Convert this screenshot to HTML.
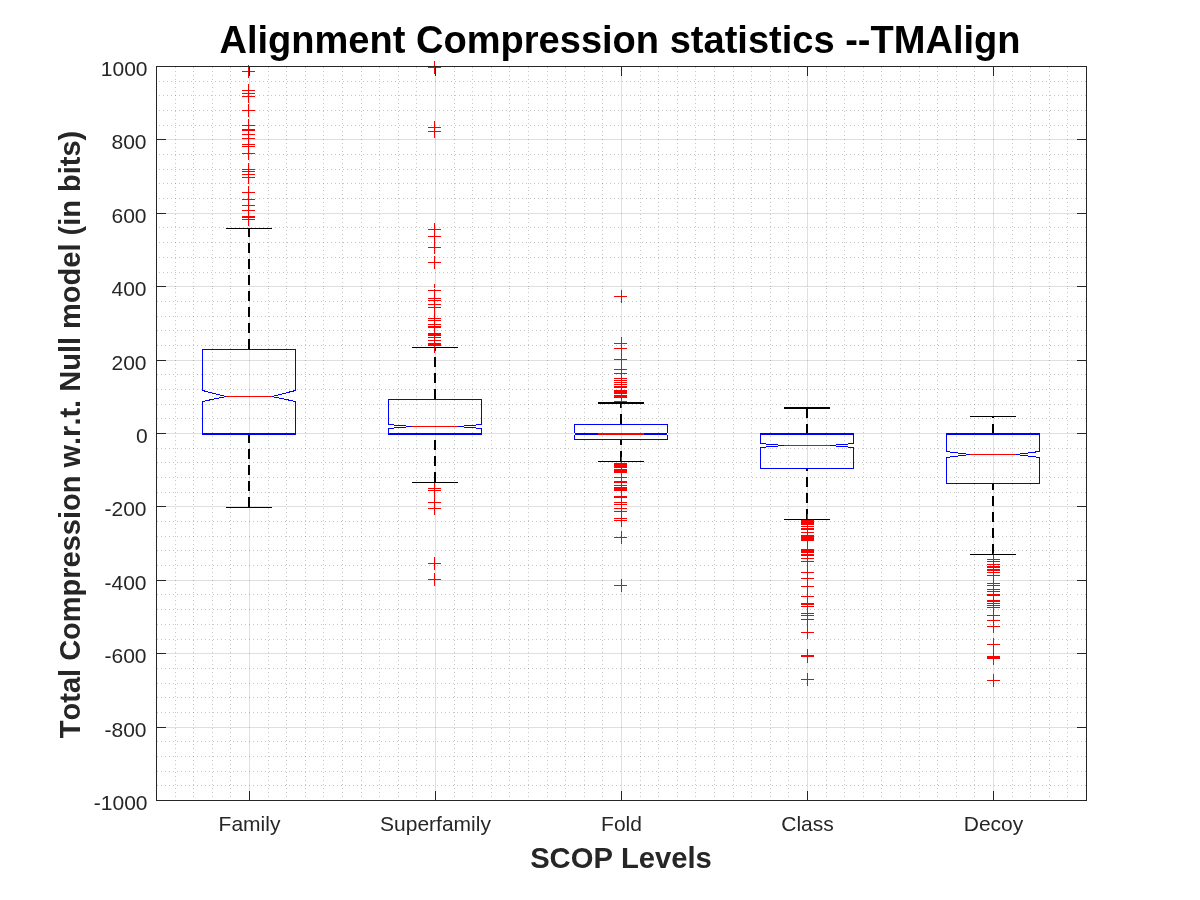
<!DOCTYPE html>
<html lang="en"><head><meta charset="utf-8"><title>Alignment Compression statistics --TMAlign</title>
<style>
html,body{margin:0;padding:0;background:#fff;}
body{width:1200px;height:900px;overflow:hidden;}
svg{display:block;}
text{font-family:'Liberation Sans', sans-serif;font-kerning:none;}
</style></head><body>
<svg width="1200" height="900" viewBox="0 0 1200 900">
<rect width="1200" height="900" fill="#fff"/>
<g shape-rendering="crispEdges">
<path d="M175.5,67V188M175.5,190V287M175.5,288V797M193.5,67V188M193.5,190V287M193.5,288V797M212.5,67V188M212.5,190V287M212.5,288V797M230.5,67V188M230.5,190V287M230.5,288V797M268.5,67V188M268.5,190V287M268.5,288V797M286.5,67V188M286.5,190V287M286.5,288V797M305.5,67V188M305.5,190V287M305.5,288V797M323.5,67V188M323.5,190V287M323.5,288V797M342.5,67V188M342.5,190V287M342.5,288V797M361.5,67V188M361.5,190V287M361.5,288V797M379.5,67V188M379.5,190V287M379.5,288V797M398.5,67V188M398.5,190V287M398.5,288V797M416.5,67V188M416.5,190V287M416.5,288V797M454.5,67V188M454.5,190V287M454.5,288V797M472.5,67V188M472.5,190V287M472.5,288V797M491.5,67V188M491.5,190V287M491.5,288V797M509.5,67V188M509.5,190V287M509.5,288V797M528.5,67V188M528.5,190V287M528.5,288V797M547.5,67V188M547.5,190V287M547.5,288V797M565.5,67V188M565.5,190V287M565.5,288V797M584.5,67V188M584.5,190V287M584.5,288V797M602.5,67V188M602.5,190V287M602.5,288V797M640.5,67V188M640.5,190V287M640.5,288V797M658.5,67V188M658.5,190V287M658.5,288V797M677.5,67V188M677.5,190V287M677.5,288V797M695.5,67V188M695.5,190V287M695.5,288V797M714.5,67V188M714.5,190V287M714.5,288V797M733.5,67V188M733.5,190V287M733.5,288V797M751.5,67V188M751.5,190V287M751.5,288V797M770.5,67V188M770.5,190V287M770.5,288V797M788.5,67V188M788.5,190V287M788.5,288V797M826.5,67V188M826.5,190V287M826.5,288V797M844.5,67V188M844.5,190V287M844.5,288V797M863.5,67V188M863.5,190V287M863.5,288V797M881.5,67V188M881.5,190V287M881.5,288V797M900.5,67V188M900.5,190V287M900.5,288V797M919.5,67V188M919.5,190V287M919.5,288V797M937.5,67V188M937.5,190V287M937.5,288V797M956.5,67V188M956.5,190V287M956.5,288V797M974.5,67V188M974.5,190V287M974.5,288V797M1012.5,67V188M1012.5,190V287M1012.5,288V797M1030.5,67V188M1030.5,190V287M1030.5,288V797M1049.5,67V188M1049.5,190V287M1049.5,288V797M1067.5,67V188M1067.5,190V287M1067.5,288V797" stroke="#1a1a1a" stroke-width="1" stroke-dasharray="1 3" stroke-opacity="0.25" fill="none"/>
<path d="M159,81.5H468M470,81.5H1071M1073,81.5H1086M159,95.5H468M470,95.5H1071M1073,95.5H1086M159,110.5H468M470,110.5H1071M1073,110.5H1086M159,125.5H468M470,125.5H1071M1073,125.5H1086M159,154.5H468M470,154.5H1071M1073,154.5H1086M159,169.5H468M470,169.5H1071M1073,169.5H1086M159,183.5H468M470,183.5H1071M1073,183.5H1086M159,198.5H468M470,198.5H1071M1073,198.5H1086M159,227.5H468M470,227.5H1071M1073,227.5H1086M159,242.5H468M470,242.5H1071M1073,242.5H1086M159,257.5H468M470,257.5H1071M1073,257.5H1086M159,272.5H468M470,272.5H1071M1073,272.5H1086M157,301.5H470M472,301.5H781M786,301.5H1071M1077,301.5H1086M157,316.5H470M472,316.5H781M786,316.5H1071M1077,316.5H1086M157,330.5H470M472,330.5H781M786,330.5H1071M1077,330.5H1086M157,345.5H470M472,345.5H781M786,345.5H1071M1077,345.5H1086M157,374.5H470M472,374.5H781M786,374.5H1071M1077,374.5H1086M157,389.5H470M472,389.5H781M786,389.5H1071M1077,389.5H1086M157,404.5H470M472,404.5H781M786,404.5H1071M1077,404.5H1086M157,418.5H470M472,418.5H781M786,418.5H1071M1077,418.5H1086M157,448.5H470M472,448.5H781M786,448.5H1071M1077,448.5H1086M157,462.5H470M472,462.5H781M786,462.5H1071M1077,462.5H1086M157,477.5H470M472,477.5H781M786,477.5H1071M1077,477.5H1086M157,492.5H470M472,492.5H781M786,492.5H1071M1077,492.5H1086M157,521.5H470M472,521.5H781M786,521.5H1071M1077,521.5H1086M157,536.5H470M472,536.5H781M786,536.5H1071M1077,536.5H1086M157,550.5H470M472,550.5H781M786,550.5H1071M1077,550.5H1086M157,565.5H470M472,565.5H781M786,565.5H1071M1077,565.5H1086M157,594.5H470M472,594.5H781M786,594.5H1071M1077,594.5H1086M157,609.5H470M472,609.5H781M786,609.5H1071M1077,609.5H1086M157,624.5H470M472,624.5H781M786,624.5H1071M1077,624.5H1086M157,639.5H470M472,639.5H781M786,639.5H1071M1077,639.5H1086M157,668.5H470M472,668.5H781M786,668.5H1071M1077,668.5H1086M157,683.5H470M472,683.5H781M786,683.5H1071M1077,683.5H1086M157,697.5H470M472,697.5H781M786,697.5H1071M1077,697.5H1086M157,712.5H470M472,712.5H781M786,712.5H1071M1077,712.5H1086M157,741.5H470M472,741.5H781M786,741.5H1071M1077,741.5H1086M157,756.5H470M472,756.5H781M786,756.5H1071M1077,756.5H1086M157,771.5H470M472,771.5H781M786,771.5H1071M1077,771.5H1086M157,785.5H470M472,785.5H781M786,785.5H1071M1077,785.5H1086" stroke="#1a1a1a" stroke-width="1" stroke-dasharray="1 3" stroke-opacity="0.25" fill="none"/>
<g fill-opacity="0.15">
<rect x="249" y="67" width="1" height="733" fill="#262626"/>
<rect x="435" y="67" width="1" height="733" fill="#262626"/>
<rect x="621" y="67" width="1" height="733" fill="#262626"/>
<rect x="807" y="67" width="1" height="733" fill="#262626"/>
<rect x="993" y="67" width="1" height="733" fill="#262626"/>
<rect x="157" y="139" width="929" height="1" fill="#262626"/>
<rect x="157" y="213" width="929" height="1" fill="#262626"/>
<rect x="157" y="286" width="929" height="1" fill="#262626"/>
<rect x="157" y="360" width="929" height="1" fill="#262626"/>
<rect x="157" y="433" width="929" height="1" fill="#262626"/>
<rect x="157" y="506" width="929" height="1" fill="#262626"/>
<rect x="157" y="580" width="929" height="1" fill="#262626"/>
<rect x="157" y="653" width="929" height="1" fill="#262626"/>
<rect x="157" y="727" width="929" height="1" fill="#262626"/>
</g>
<rect x="784" y="360" width="1" height="1" fill="#fff"/>
<rect x="784" y="433" width="1" height="1" fill="#fff"/>
<rect x="784" y="506" width="1" height="1" fill="#fff"/>
<rect x="784" y="580" width="1" height="1" fill="#fff"/>
<rect x="784" y="653" width="1" height="1" fill="#fff"/>
<rect x="784" y="727" width="1" height="1" fill="#fff"/>
<rect x="249" y="287" width="1" height="1" fill="#fff"/>
<rect x="435" y="287" width="1" height="1" fill="#fff"/>
<rect x="621" y="287" width="1" height="1" fill="#fff"/>
<rect x="807" y="287" width="1" height="1" fill="#fff"/>
<rect x="993" y="287" width="1" height="1" fill="#fff"/>
<line x1="249" y1="349" x2="249" y2="228" stroke="#000000" stroke-width="2" stroke-dasharray="10 6"/>
<line x1="249" y1="507" x2="249" y2="434" stroke="#000000" stroke-width="2" stroke-dasharray="10 6"/>
<polygon points="202.5,349.5 295.5,349.5 295.5,390.5 272,396.5 295.5,401.5 295.5,433.5 202.5,433.5 202.5,401.5 226,396.5 202.5,390.5" fill="none" stroke="#0000ff" stroke-width="1"/>
<rect x="202" y="433" width="94" height="2" fill="#0000ff"/>
<rect x="226" y="396" width="46" height="1" fill="#ff0000"/>
<rect x="242" y="71" width="13" height="1" fill="#ff0000"/>
<rect x="248" y="65" width="1" height="13" fill="#ff0000"/>
<rect x="242" y="90" width="13" height="1" fill="#ff0000"/>
<rect x="248" y="84" width="1" height="13" fill="#ff0000"/>
<rect x="242" y="93" width="13" height="1" fill="#ff0000"/>
<rect x="248" y="87" width="1" height="13" fill="#ff0000"/>
<rect x="242" y="96" width="13" height="1" fill="#ff0000"/>
<rect x="248" y="90" width="1" height="13" fill="#ff0000"/>
<rect x="242" y="110" width="13" height="1" fill="#ff0000"/>
<rect x="248" y="104" width="1" height="13" fill="#ff0000"/>
<rect x="242" y="125" width="13" height="1" fill="#ff0000"/>
<rect x="248" y="119" width="1" height="13" fill="#ff0000"/>
<rect x="242" y="129" width="13" height="1" fill="#ff0000"/>
<rect x="248" y="123" width="1" height="13" fill="#ff0000"/>
<rect x="242" y="130" width="13" height="1" fill="#ff0000"/>
<rect x="248" y="124" width="1" height="13" fill="#ff0000"/>
<rect x="242" y="134" width="13" height="1" fill="#ff0000"/>
<rect x="248" y="128" width="1" height="13" fill="#ff0000"/>
<rect x="242" y="138" width="13" height="1" fill="#ff0000"/>
<rect x="248" y="132" width="1" height="13" fill="#ff0000"/>
<rect x="242" y="144" width="13" height="1" fill="#ff0000"/>
<rect x="248" y="138" width="1" height="13" fill="#ff0000"/>
<rect x="242" y="146" width="13" height="1" fill="#ff0000"/>
<rect x="248" y="140" width="1" height="13" fill="#ff0000"/>
<rect x="242" y="153" width="13" height="1" fill="#ff0000"/>
<rect x="248" y="147" width="1" height="13" fill="#ff0000"/>
<rect x="242" y="169" width="13" height="1" fill="#ff0000"/>
<rect x="248" y="163" width="1" height="13" fill="#ff0000"/>
<rect x="242" y="171" width="13" height="1" fill="#ff0000"/>
<rect x="248" y="165" width="1" height="13" fill="#ff0000"/>
<rect x="242" y="174" width="13" height="1" fill="#ff0000"/>
<rect x="248" y="168" width="1" height="13" fill="#ff0000"/>
<rect x="242" y="177" width="13" height="1" fill="#ff0000"/>
<rect x="248" y="171" width="1" height="13" fill="#ff0000"/>
<rect x="242" y="192" width="13" height="1" fill="#ff0000"/>
<rect x="248" y="186" width="1" height="13" fill="#ff0000"/>
<rect x="242" y="199" width="13" height="1" fill="#ff0000"/>
<rect x="248" y="193" width="1" height="13" fill="#ff0000"/>
<rect x="242" y="205" width="13" height="1" fill="#ff0000"/>
<rect x="248" y="199" width="1" height="13" fill="#ff0000"/>
<rect x="242" y="210" width="13" height="1" fill="#ff0000"/>
<rect x="248" y="204" width="1" height="13" fill="#ff0000"/>
<rect x="242" y="216" width="13" height="1" fill="#ff0000"/>
<rect x="248" y="210" width="1" height="13" fill="#ff0000"/>
<rect x="242" y="217" width="13" height="1" fill="#ff0000"/>
<rect x="248" y="211" width="1" height="13" fill="#ff0000"/>
<rect x="242" y="219" width="13" height="1" fill="#ff0000"/>
<rect x="248" y="213" width="1" height="13" fill="#ff0000"/>
<rect x="226" y="228" width="46" height="1" fill="#000000"/>
<rect x="226" y="507" width="46" height="1" fill="#000000"/>
<line x1="435" y1="399" x2="435" y2="347" stroke="#000000" stroke-width="2" stroke-dasharray="10 6"/>
<line x1="435" y1="482" x2="435" y2="434" stroke="#000000" stroke-width="2" stroke-dasharray="10 6"/>
<polygon points="388.5,399.5 481.5,399.5 481.5,424.5 458,426.5 481.5,428.5 481.5,433.5 388.5,433.5 388.5,428.5 412,426.5 388.5,424.5" fill="none" stroke="#0000ff" stroke-width="1"/>
<rect x="388" y="433" width="94" height="2" fill="#0000ff"/>
<rect x="412" y="426" width="46" height="1" fill="#ff0000"/>
<rect x="428" y="67" width="13" height="1" fill="#ff0000"/>
<rect x="434" y="61" width="1" height="13" fill="#ff0000"/>
<rect x="428" y="127" width="13" height="1" fill="#ff0000"/>
<rect x="434" y="121" width="1" height="13" fill="#ff0000"/>
<rect x="428" y="131" width="13" height="1" fill="#ff0000"/>
<rect x="434" y="125" width="1" height="13" fill="#ff0000"/>
<rect x="428" y="229" width="13" height="1" fill="#ff0000"/>
<rect x="434" y="223" width="1" height="13" fill="#ff0000"/>
<rect x="428" y="236" width="13" height="1" fill="#ff0000"/>
<rect x="434" y="230" width="1" height="13" fill="#ff0000"/>
<rect x="428" y="247" width="13" height="1" fill="#ff0000"/>
<rect x="434" y="241" width="1" height="13" fill="#ff0000"/>
<rect x="428" y="262" width="13" height="1" fill="#ff0000"/>
<rect x="434" y="256" width="1" height="13" fill="#ff0000"/>
<rect x="428" y="290" width="13" height="1" fill="#ff0000"/>
<rect x="434" y="284" width="1" height="13" fill="#ff0000"/>
<rect x="428" y="298" width="13" height="1" fill="#ff0000"/>
<rect x="434" y="292" width="1" height="13" fill="#ff0000"/>
<rect x="428" y="300" width="13" height="1" fill="#ff0000"/>
<rect x="434" y="294" width="1" height="13" fill="#ff0000"/>
<rect x="428" y="304" width="13" height="1" fill="#ff0000"/>
<rect x="434" y="298" width="1" height="13" fill="#ff0000"/>
<rect x="428" y="307" width="13" height="1" fill="#ff0000"/>
<rect x="434" y="301" width="1" height="13" fill="#ff0000"/>
<rect x="428" y="318" width="13" height="1" fill="#ff0000"/>
<rect x="434" y="312" width="1" height="13" fill="#ff0000"/>
<rect x="428" y="320" width="13" height="1" fill="#ff0000"/>
<rect x="434" y="314" width="1" height="13" fill="#ff0000"/>
<rect x="428" y="324" width="13" height="1" fill="#ff0000"/>
<rect x="434" y="318" width="1" height="13" fill="#ff0000"/>
<rect x="428" y="326" width="13" height="1" fill="#ff0000"/>
<rect x="434" y="320" width="1" height="13" fill="#ff0000"/>
<rect x="428" y="327" width="13" height="1" fill="#ff0000"/>
<rect x="434" y="321" width="1" height="13" fill="#ff0000"/>
<rect x="428" y="333" width="13" height="1" fill="#ff0000"/>
<rect x="434" y="327" width="1" height="13" fill="#ff0000"/>
<rect x="428" y="334" width="13" height="1" fill="#ff0000"/>
<rect x="434" y="328" width="1" height="13" fill="#ff0000"/>
<rect x="428" y="335" width="13" height="1" fill="#ff0000"/>
<rect x="434" y="329" width="1" height="13" fill="#ff0000"/>
<rect x="428" y="337" width="13" height="1" fill="#ff0000"/>
<rect x="434" y="331" width="1" height="13" fill="#ff0000"/>
<rect x="428" y="340" width="13" height="1" fill="#ff0000"/>
<rect x="434" y="334" width="1" height="13" fill="#ff0000"/>
<rect x="428" y="343" width="13" height="1" fill="#ff0000"/>
<rect x="434" y="337" width="1" height="13" fill="#ff0000"/>
<rect x="428" y="344" width="13" height="1" fill="#ff0000"/>
<rect x="434" y="338" width="1" height="13" fill="#ff0000"/>
<rect x="428" y="345" width="13" height="1" fill="#ff0000"/>
<rect x="434" y="339" width="1" height="13" fill="#ff0000"/>
<rect x="428" y="347" width="13" height="1" fill="#ff0000"/>
<rect x="434" y="341" width="1" height="13" fill="#ff0000"/>
<rect x="428" y="488" width="13" height="1" fill="#ff0000"/>
<rect x="434" y="482" width="1" height="13" fill="#ff0000"/>
<rect x="428" y="490" width="13" height="1" fill="#ff0000"/>
<rect x="434" y="484" width="1" height="13" fill="#ff0000"/>
<rect x="428" y="502" width="13" height="1" fill="#ff0000"/>
<rect x="434" y="496" width="1" height="13" fill="#ff0000"/>
<rect x="428" y="508" width="13" height="1" fill="#ff0000"/>
<rect x="434" y="502" width="1" height="13" fill="#ff0000"/>
<rect x="428" y="563" width="13" height="1" fill="#ff0000"/>
<rect x="434" y="557" width="1" height="13" fill="#ff0000"/>
<rect x="428" y="579" width="13" height="1" fill="#ff0000"/>
<rect x="434" y="573" width="1" height="13" fill="#ff0000"/>
<rect x="412" y="347" width="46" height="1" fill="#000000"/>
<rect x="412" y="482" width="46" height="1" fill="#000000"/>
<line x1="621" y1="424" x2="621" y2="402" stroke="#000000" stroke-width="2" stroke-dasharray="10 6"/>
<line x1="621" y1="461" x2="621" y2="439" stroke="#000000" stroke-width="2" stroke-dasharray="10 6"/>
<polygon points="574.5,424.5 667.5,424.5 667.5,432.5 666.5,434 667.5,436.0 667.5,439.5 574.5,439.5 574.5,436.0 575.5,434 574.5,432.5" fill="none" stroke="#0000ff" stroke-width="1"/>
<rect x="574" y="433" width="94" height="2" fill="#0000ff"/>
<rect x="598" y="433" width="46" height="2" fill="#ff0000"/>
<rect x="574" y="433" width="1" height="2" fill="#fff"/>
<rect x="667" y="433" width="1" height="2" fill="#fff"/>
<rect x="614" y="296" width="13" height="1" fill="#ff0000"/>
<rect x="621" y="290" width="1" height="13" fill="#ff0000"/>
<rect x="614" y="343" width="13" height="1" fill="#ff0000"/>
<rect x="621" y="337" width="1" height="13" fill="#ff0000"/>
<rect x="614" y="348" width="13" height="1" fill="#ff0000"/>
<rect x="621" y="342" width="1" height="13" fill="#ff0000"/>
<rect x="614" y="359" width="13" height="1" fill="#ff0000"/>
<rect x="621" y="353" width="1" height="13" fill="#ff0000"/>
<rect x="614" y="369" width="13" height="1" fill="#ff0000"/>
<rect x="621" y="363" width="1" height="13" fill="#ff0000"/>
<rect x="614" y="373" width="13" height="1" fill="#ff0000"/>
<rect x="621" y="367" width="1" height="13" fill="#ff0000"/>
<rect x="614" y="378" width="13" height="1" fill="#ff0000"/>
<rect x="621" y="372" width="1" height="13" fill="#ff0000"/>
<rect x="614" y="380" width="13" height="1" fill="#ff0000"/>
<rect x="621" y="374" width="1" height="13" fill="#ff0000"/>
<rect x="614" y="382" width="13" height="1" fill="#ff0000"/>
<rect x="621" y="376" width="1" height="13" fill="#ff0000"/>
<rect x="614" y="384" width="13" height="1" fill="#ff0000"/>
<rect x="621" y="378" width="1" height="13" fill="#ff0000"/>
<rect x="614" y="386" width="13" height="1" fill="#ff0000"/>
<rect x="621" y="380" width="1" height="13" fill="#ff0000"/>
<rect x="614" y="387" width="13" height="1" fill="#ff0000"/>
<rect x="621" y="381" width="1" height="13" fill="#ff0000"/>
<rect x="614" y="390" width="13" height="1" fill="#ff0000"/>
<rect x="621" y="384" width="1" height="13" fill="#ff0000"/>
<rect x="614" y="391" width="13" height="1" fill="#ff0000"/>
<rect x="621" y="385" width="1" height="13" fill="#ff0000"/>
<rect x="614" y="392" width="13" height="1" fill="#ff0000"/>
<rect x="621" y="386" width="1" height="13" fill="#ff0000"/>
<rect x="614" y="393" width="13" height="1" fill="#ff0000"/>
<rect x="621" y="387" width="1" height="13" fill="#ff0000"/>
<rect x="614" y="395" width="13" height="1" fill="#ff0000"/>
<rect x="621" y="389" width="1" height="13" fill="#ff0000"/>
<rect x="614" y="396" width="13" height="1" fill="#ff0000"/>
<rect x="621" y="390" width="1" height="13" fill="#ff0000"/>
<rect x="614" y="397" width="13" height="1" fill="#ff0000"/>
<rect x="621" y="391" width="1" height="13" fill="#ff0000"/>
<rect x="614" y="401" width="13" height="1" fill="#ff0000"/>
<rect x="621" y="395" width="1" height="13" fill="#ff0000"/>
<rect x="614" y="463" width="13" height="1" fill="#ff0000"/>
<rect x="621" y="457" width="1" height="13" fill="#ff0000"/>
<rect x="614" y="464" width="13" height="1" fill="#ff0000"/>
<rect x="621" y="458" width="1" height="13" fill="#ff0000"/>
<rect x="614" y="465" width="13" height="1" fill="#ff0000"/>
<rect x="621" y="459" width="1" height="13" fill="#ff0000"/>
<rect x="614" y="466" width="13" height="1" fill="#ff0000"/>
<rect x="621" y="460" width="1" height="13" fill="#ff0000"/>
<rect x="614" y="467" width="13" height="1" fill="#ff0000"/>
<rect x="621" y="461" width="1" height="13" fill="#ff0000"/>
<rect x="614" y="469" width="13" height="1" fill="#ff0000"/>
<rect x="621" y="463" width="1" height="13" fill="#ff0000"/>
<rect x="614" y="470" width="13" height="1" fill="#ff0000"/>
<rect x="621" y="464" width="1" height="13" fill="#ff0000"/>
<rect x="614" y="471" width="13" height="1" fill="#ff0000"/>
<rect x="621" y="465" width="1" height="13" fill="#ff0000"/>
<rect x="614" y="472" width="13" height="1" fill="#ff0000"/>
<rect x="621" y="466" width="1" height="13" fill="#ff0000"/>
<rect x="614" y="477" width="13" height="1" fill="#ff0000"/>
<rect x="621" y="471" width="1" height="13" fill="#ff0000"/>
<rect x="614" y="481" width="13" height="1" fill="#ff0000"/>
<rect x="621" y="475" width="1" height="13" fill="#ff0000"/>
<rect x="614" y="482" width="13" height="1" fill="#ff0000"/>
<rect x="621" y="476" width="1" height="13" fill="#ff0000"/>
<rect x="614" y="485" width="13" height="1" fill="#ff0000"/>
<rect x="621" y="479" width="1" height="13" fill="#ff0000"/>
<rect x="614" y="487" width="13" height="1" fill="#ff0000"/>
<rect x="621" y="481" width="1" height="13" fill="#ff0000"/>
<rect x="614" y="488" width="13" height="1" fill="#ff0000"/>
<rect x="621" y="482" width="1" height="13" fill="#ff0000"/>
<rect x="614" y="489" width="13" height="1" fill="#ff0000"/>
<rect x="621" y="483" width="1" height="13" fill="#ff0000"/>
<rect x="614" y="490" width="13" height="1" fill="#ff0000"/>
<rect x="621" y="484" width="1" height="13" fill="#ff0000"/>
<rect x="614" y="496" width="13" height="1" fill="#ff0000"/>
<rect x="621" y="490" width="1" height="13" fill="#ff0000"/>
<rect x="614" y="497" width="13" height="1" fill="#ff0000"/>
<rect x="621" y="491" width="1" height="13" fill="#ff0000"/>
<rect x="614" y="502" width="13" height="1" fill="#ff0000"/>
<rect x="621" y="496" width="1" height="13" fill="#ff0000"/>
<rect x="614" y="504" width="13" height="1" fill="#ff0000"/>
<rect x="621" y="498" width="1" height="13" fill="#ff0000"/>
<rect x="614" y="508" width="13" height="1" fill="#ff0000"/>
<rect x="621" y="502" width="1" height="13" fill="#ff0000"/>
<rect x="614" y="511" width="13" height="1" fill="#ff0000"/>
<rect x="621" y="505" width="1" height="13" fill="#ff0000"/>
<rect x="614" y="518" width="13" height="1" fill="#ff0000"/>
<rect x="621" y="512" width="1" height="13" fill="#ff0000"/>
<rect x="614" y="520" width="13" height="1" fill="#ff0000"/>
<rect x="621" y="514" width="1" height="13" fill="#ff0000"/>
<rect x="614" y="537" width="13" height="1" fill="#ff0000"/>
<rect x="621" y="531" width="1" height="13" fill="#ff0000"/>
<rect x="614" y="585" width="13" height="1" fill="#ff0000"/>
<rect x="621" y="579" width="1" height="13" fill="#ff0000"/>
<rect x="598" y="402" width="46" height="2" fill="#000000"/>
<rect x="598" y="461" width="46" height="1" fill="#000000"/>
<line x1="807" y1="434" x2="807" y2="407" stroke="#000000" stroke-width="2" stroke-dasharray="10 6"/>
<line x1="807" y1="519" x2="807" y2="468" stroke="#000000" stroke-width="2" stroke-dasharray="10 6"/>
<polygon points="760.5,433.5 853.5,433.5 853.5,443.5 830,445.5 853.5,447.5 853.5,468.5 760.5,468.5 760.5,447.5 784,445.5 760.5,443.5" fill="none" stroke="#0000ff" stroke-width="1"/>
<rect x="760" y="433" width="94" height="2" fill="#0000ff"/>
<rect x="784" y="445" width="46" height="1" fill="#ff0000"/>
<rect x="801" y="520" width="13" height="1" fill="#ff0000"/>
<rect x="807" y="514" width="1" height="13" fill="#ff0000"/>
<rect x="801" y="521" width="13" height="1" fill="#ff0000"/>
<rect x="807" y="515" width="1" height="13" fill="#ff0000"/>
<rect x="801" y="522" width="13" height="1" fill="#ff0000"/>
<rect x="807" y="516" width="1" height="13" fill="#ff0000"/>
<rect x="801" y="523" width="13" height="1" fill="#ff0000"/>
<rect x="807" y="517" width="1" height="13" fill="#ff0000"/>
<rect x="801" y="524" width="13" height="1" fill="#ff0000"/>
<rect x="807" y="518" width="1" height="13" fill="#ff0000"/>
<rect x="801" y="526" width="13" height="1" fill="#ff0000"/>
<rect x="807" y="520" width="1" height="13" fill="#ff0000"/>
<rect x="801" y="528" width="13" height="1" fill="#ff0000"/>
<rect x="807" y="522" width="1" height="13" fill="#ff0000"/>
<rect x="801" y="529" width="13" height="1" fill="#ff0000"/>
<rect x="807" y="523" width="1" height="13" fill="#ff0000"/>
<rect x="801" y="532" width="13" height="1" fill="#ff0000"/>
<rect x="807" y="526" width="1" height="13" fill="#ff0000"/>
<rect x="801" y="535" width="13" height="1" fill="#ff0000"/>
<rect x="807" y="529" width="1" height="13" fill="#ff0000"/>
<rect x="801" y="536" width="13" height="1" fill="#ff0000"/>
<rect x="807" y="530" width="1" height="13" fill="#ff0000"/>
<rect x="801" y="537" width="13" height="1" fill="#ff0000"/>
<rect x="807" y="531" width="1" height="13" fill="#ff0000"/>
<rect x="801" y="538" width="13" height="1" fill="#ff0000"/>
<rect x="807" y="532" width="1" height="13" fill="#ff0000"/>
<rect x="801" y="539" width="13" height="1" fill="#ff0000"/>
<rect x="807" y="533" width="1" height="13" fill="#ff0000"/>
<rect x="801" y="540" width="13" height="1" fill="#ff0000"/>
<rect x="807" y="534" width="1" height="13" fill="#ff0000"/>
<rect x="801" y="549" width="13" height="1" fill="#ff0000"/>
<rect x="807" y="543" width="1" height="13" fill="#ff0000"/>
<rect x="801" y="550" width="13" height="1" fill="#ff0000"/>
<rect x="807" y="544" width="1" height="13" fill="#ff0000"/>
<rect x="801" y="551" width="13" height="1" fill="#ff0000"/>
<rect x="807" y="545" width="1" height="13" fill="#ff0000"/>
<rect x="801" y="552" width="13" height="1" fill="#ff0000"/>
<rect x="807" y="546" width="1" height="13" fill="#ff0000"/>
<rect x="801" y="554" width="13" height="1" fill="#ff0000"/>
<rect x="807" y="548" width="1" height="13" fill="#ff0000"/>
<rect x="801" y="555" width="13" height="1" fill="#ff0000"/>
<rect x="807" y="549" width="1" height="13" fill="#ff0000"/>
<rect x="801" y="558" width="13" height="1" fill="#ff0000"/>
<rect x="807" y="552" width="1" height="13" fill="#ff0000"/>
<rect x="801" y="561" width="13" height="1" fill="#ff0000"/>
<rect x="807" y="555" width="1" height="13" fill="#ff0000"/>
<rect x="801" y="572" width="13" height="1" fill="#ff0000"/>
<rect x="807" y="566" width="1" height="13" fill="#ff0000"/>
<rect x="801" y="578" width="13" height="1" fill="#ff0000"/>
<rect x="807" y="572" width="1" height="13" fill="#ff0000"/>
<rect x="801" y="586" width="13" height="1" fill="#ff0000"/>
<rect x="807" y="580" width="1" height="13" fill="#ff0000"/>
<rect x="801" y="596" width="13" height="1" fill="#ff0000"/>
<rect x="807" y="590" width="1" height="13" fill="#ff0000"/>
<rect x="801" y="603" width="13" height="1" fill="#ff0000"/>
<rect x="807" y="597" width="1" height="13" fill="#ff0000"/>
<rect x="801" y="604" width="13" height="1" fill="#ff0000"/>
<rect x="807" y="598" width="1" height="13" fill="#ff0000"/>
<rect x="801" y="606" width="13" height="1" fill="#ff0000"/>
<rect x="807" y="600" width="1" height="13" fill="#ff0000"/>
<rect x="801" y="613" width="13" height="1" fill="#ff0000"/>
<rect x="807" y="607" width="1" height="13" fill="#ff0000"/>
<rect x="801" y="615" width="13" height="1" fill="#ff0000"/>
<rect x="807" y="609" width="1" height="13" fill="#ff0000"/>
<rect x="801" y="619" width="13" height="1" fill="#ff0000"/>
<rect x="807" y="613" width="1" height="13" fill="#ff0000"/>
<rect x="801" y="632" width="13" height="1" fill="#ff0000"/>
<rect x="807" y="626" width="1" height="13" fill="#ff0000"/>
<rect x="801" y="655" width="13" height="1" fill="#ff0000"/>
<rect x="807" y="649" width="1" height="13" fill="#ff0000"/>
<rect x="801" y="656" width="13" height="1" fill="#ff0000"/>
<rect x="807" y="650" width="1" height="13" fill="#ff0000"/>
<rect x="801" y="679" width="13" height="1" fill="#ff0000"/>
<rect x="807" y="673" width="1" height="13" fill="#ff0000"/>
<rect x="784" y="407" width="46" height="2" fill="#000000"/>
<rect x="784" y="519" width="46" height="1" fill="#000000"/>
<line x1="993" y1="434" x2="993" y2="416" stroke="#000000" stroke-width="2" stroke-dasharray="10 6"/>
<line x1="993" y1="554" x2="993" y2="483" stroke="#000000" stroke-width="2" stroke-dasharray="10 6"/>
<polygon points="946.5,433.5 1039.5,433.5 1039.5,451.5 1016,454.5 1039.5,457.5 1039.5,483.5 946.5,483.5 946.5,457.5 970,454.5 946.5,451.5" fill="none" stroke="#0000ff" stroke-width="1"/>
<rect x="946" y="433" width="94" height="2" fill="#0000ff"/>
<rect x="970" y="454" width="46" height="1" fill="#ff0000"/>
<rect x="987" y="559" width="13" height="1" fill="#ff0000"/>
<rect x="993" y="553" width="1" height="13" fill="#ff0000"/>
<rect x="987" y="561" width="13" height="1" fill="#ff0000"/>
<rect x="993" y="555" width="1" height="13" fill="#ff0000"/>
<rect x="987" y="564" width="13" height="1" fill="#ff0000"/>
<rect x="993" y="558" width="1" height="13" fill="#ff0000"/>
<rect x="987" y="566" width="13" height="1" fill="#ff0000"/>
<rect x="993" y="560" width="1" height="13" fill="#ff0000"/>
<rect x="987" y="567" width="13" height="1" fill="#ff0000"/>
<rect x="993" y="561" width="1" height="13" fill="#ff0000"/>
<rect x="987" y="569" width="13" height="1" fill="#ff0000"/>
<rect x="993" y="563" width="1" height="13" fill="#ff0000"/>
<rect x="987" y="570" width="13" height="1" fill="#ff0000"/>
<rect x="993" y="564" width="1" height="13" fill="#ff0000"/>
<rect x="987" y="572" width="13" height="1" fill="#ff0000"/>
<rect x="993" y="566" width="1" height="13" fill="#ff0000"/>
<rect x="987" y="575" width="13" height="1" fill="#ff0000"/>
<rect x="993" y="569" width="1" height="13" fill="#ff0000"/>
<rect x="987" y="583" width="13" height="1" fill="#ff0000"/>
<rect x="993" y="577" width="1" height="13" fill="#ff0000"/>
<rect x="987" y="585" width="13" height="1" fill="#ff0000"/>
<rect x="993" y="579" width="1" height="13" fill="#ff0000"/>
<rect x="987" y="589" width="13" height="1" fill="#ff0000"/>
<rect x="993" y="583" width="1" height="13" fill="#ff0000"/>
<rect x="987" y="591" width="13" height="1" fill="#ff0000"/>
<rect x="993" y="585" width="1" height="13" fill="#ff0000"/>
<rect x="987" y="594" width="13" height="1" fill="#ff0000"/>
<rect x="993" y="588" width="1" height="13" fill="#ff0000"/>
<rect x="987" y="595" width="13" height="1" fill="#ff0000"/>
<rect x="993" y="589" width="1" height="13" fill="#ff0000"/>
<rect x="987" y="600" width="13" height="1" fill="#ff0000"/>
<rect x="993" y="594" width="1" height="13" fill="#ff0000"/>
<rect x="987" y="601" width="13" height="1" fill="#ff0000"/>
<rect x="993" y="595" width="1" height="13" fill="#ff0000"/>
<rect x="987" y="603" width="13" height="1" fill="#ff0000"/>
<rect x="993" y="597" width="1" height="13" fill="#ff0000"/>
<rect x="987" y="605" width="13" height="1" fill="#ff0000"/>
<rect x="993" y="599" width="1" height="13" fill="#ff0000"/>
<rect x="987" y="607" width="13" height="1" fill="#ff0000"/>
<rect x="993" y="601" width="1" height="13" fill="#ff0000"/>
<rect x="987" y="615" width="13" height="1" fill="#ff0000"/>
<rect x="993" y="609" width="1" height="13" fill="#ff0000"/>
<rect x="987" y="620" width="13" height="1" fill="#ff0000"/>
<rect x="993" y="614" width="1" height="13" fill="#ff0000"/>
<rect x="987" y="626" width="13" height="1" fill="#ff0000"/>
<rect x="993" y="620" width="1" height="13" fill="#ff0000"/>
<rect x="987" y="644" width="13" height="1" fill="#ff0000"/>
<rect x="993" y="638" width="1" height="13" fill="#ff0000"/>
<rect x="987" y="656" width="13" height="1" fill="#ff0000"/>
<rect x="993" y="650" width="1" height="13" fill="#ff0000"/>
<rect x="987" y="657" width="13" height="1" fill="#ff0000"/>
<rect x="993" y="651" width="1" height="13" fill="#ff0000"/>
<rect x="987" y="658" width="13" height="1" fill="#ff0000"/>
<rect x="993" y="652" width="1" height="13" fill="#ff0000"/>
<rect x="987" y="680" width="13" height="1" fill="#ff0000"/>
<rect x="993" y="674" width="1" height="13" fill="#ff0000"/>
<rect x="970" y="416" width="46" height="1" fill="#000000"/>
<rect x="970" y="554" width="46" height="1" fill="#000000"/>
<rect x="434" y="288" width="1" height="1" fill="#fff"/>
<rect x="434" y="353" width="1" height="1" fill="#fff"/>
<rect x="156" y="66" width="931" height="1" fill="#262626"/>
<rect x="156" y="800" width="931" height="1" fill="#262626"/>
<rect x="156" y="66" width="1" height="735" fill="#262626"/>
<rect x="1086" y="66" width="1" height="735" fill="#262626"/>
<rect x="249" y="67" width="1" height="9" fill="#262626"/>
<rect x="249" y="791" width="1" height="9" fill="#262626"/>
<rect x="435" y="67" width="1" height="9" fill="#262626"/>
<rect x="435" y="791" width="1" height="9" fill="#262626"/>
<rect x="621" y="67" width="1" height="9" fill="#262626"/>
<rect x="621" y="791" width="1" height="9" fill="#262626"/>
<rect x="807" y="67" width="1" height="9" fill="#262626"/>
<rect x="807" y="791" width="1" height="9" fill="#262626"/>
<rect x="993" y="67" width="1" height="9" fill="#262626"/>
<rect x="993" y="791" width="1" height="9" fill="#262626"/>
<rect x="157" y="139" width="9" height="1" fill="#262626"/>
<rect x="1077" y="139" width="9" height="1" fill="#262626"/>
<rect x="157" y="213" width="9" height="1" fill="#262626"/>
<rect x="1077" y="213" width="9" height="1" fill="#262626"/>
<rect x="157" y="286" width="9" height="1" fill="#262626"/>
<rect x="1077" y="286" width="9" height="1" fill="#262626"/>
<rect x="157" y="360" width="9" height="1" fill="#262626"/>
<rect x="1077" y="360" width="9" height="1" fill="#262626"/>
<rect x="157" y="433" width="9" height="1" fill="#262626"/>
<rect x="1077" y="433" width="9" height="1" fill="#262626"/>
<rect x="157" y="506" width="9" height="1" fill="#262626"/>
<rect x="1077" y="506" width="9" height="1" fill="#262626"/>
<rect x="157" y="580" width="9" height="1" fill="#262626"/>
<rect x="1077" y="580" width="9" height="1" fill="#262626"/>
<rect x="157" y="653" width="9" height="1" fill="#262626"/>
<rect x="1077" y="653" width="9" height="1" fill="#262626"/>
<rect x="157" y="727" width="9" height="1" fill="#262626"/>
<rect x="1077" y="727" width="9" height="1" fill="#262626"/>
</g>
<g>
<text x="147.5" y="75.8" text-anchor="end" font-size="21" fill="#262626">1000</text>
<text x="146.5" y="148.8" text-anchor="end" font-size="21" fill="#262626">800</text>
<text x="146.5" y="222.8" text-anchor="end" font-size="21" fill="#262626">600</text>
<text x="146.5" y="295.8" text-anchor="end" font-size="21" fill="#262626">400</text>
<text x="146.5" y="369.8" text-anchor="end" font-size="21" fill="#262626">200</text>
<text x="147.8" y="442.8" text-anchor="end" font-size="21" fill="#262626">0</text>
<text x="146.5" y="515.8" text-anchor="end" font-size="21" fill="#262626">-200</text>
<text x="146.5" y="589.8" text-anchor="end" font-size="21" fill="#262626">-400</text>
<text x="146.5" y="662.8" text-anchor="end" font-size="21" fill="#262626">-600</text>
<text x="146.5" y="736.8" text-anchor="end" font-size="21" fill="#262626">-800</text>
<text x="147.5" y="809.8" text-anchor="end" font-size="21" fill="#262626">-1000</text>
<text x="249.5" y="831" text-anchor="middle" font-size="21" fill="#262626">Family</text>
<text x="435.5" y="831" text-anchor="middle" font-size="21" fill="#262626">Superfamily</text>
<text x="621.5" y="831" text-anchor="middle" font-size="21" fill="#262626">Fold</text>
<text x="807.5" y="831" text-anchor="middle" font-size="21" fill="#262626">Class</text>
<text x="993.5" y="831" text-anchor="middle" font-size="21" fill="#262626">Decoy</text>
<text x="621" y="867.8" text-anchor="middle" font-size="29.2" font-weight="bold" fill="#262626">SCOP Levels</text>
<text transform="translate(80,434.5) rotate(-90)" text-anchor="middle" font-size="29" font-weight="bold" fill="#262626">Total Compression w.r.t. Null model (in bits)</text>
<text x="620" y="52.5" text-anchor="middle" font-size="38.05" font-weight="bold" fill="#000">Alignment Compression statistics --TMAlign</text>
</g>
</svg>
</body></html>
